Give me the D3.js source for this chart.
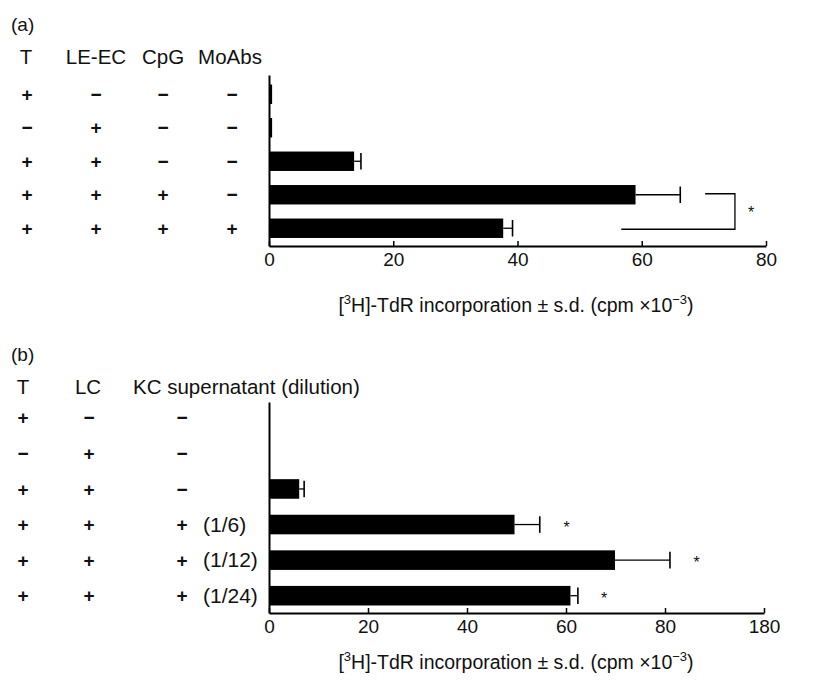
<!DOCTYPE html>
<html>
<head>
<meta charset="utf-8">
<script src="https://cdn.jsdelivr.net/npm/d3@7/dist/d3.min.js"></script>
<style>
  body { margin: 0; background: #fff; }
  svg text { font-family: "Liberation Sans", Arial, Helvetica, sans-serif; fill: #111; }
</style>
</head>
<body>
<div id="chart"></div>
<script>
const width = 824;
const height = 681;

// ---- panel (a) data ----
const rowsA = ["a1", "a2", "a3", "a4", "a5"];
const headA = ["T", "LE-EC", "CpG", "MoAbs"];
const tA = ["+", "\u2212", "+", "+", "+"];
const leecA = ["\u2212", "+", "+", "+", "+"];
const cpgA = ["\u2212", "\u2212", "\u2212", "+", "+"];
const moabsA = ["\u2212", "\u2212", "\u2212", "\u2212", "+"];
const meanA = [0.5, 0.5, 13.7, 59.0, 37.7];
const sdA = [0, 0, 1.1, 7.2, 1.5];
const ticksA = [0, 20, 40, 60, 80];
// significance bracket between rows 4 and 5 (x values)
const bracketA = {top: [70.2, 75], bottom: [56.7, 75], star: 77.6};

// ---- panel (b) data ----
const rowsB = ["b1", "b2", "b3", "b4", "b5", "b6"];
const tB = ["+", "\u2212", "+", "+", "+", "+"];
const lcB = ["\u2212", "+", "+", "+", "+", "+"];
const kcB = ["\u2212", "\u2212", "\u2212", "+", "+", "+"];
const dilB = ["", "", "", "(1/6)", "(1/12)", "(1/24)"];
const meanB = [0, 0, 6.1, 49.6, 69.9, 60.9];
const sdB = [0, 0, 1.0, 5.1, 11.1, 1.5];
const starB = [null, null, null, 60.1, 86.4, 67.7];
const tickValsB = [0, 20, 40, 60, 80, 100];
const tickLabelsB = ["0", "20", "40", "60", "80", "180"];

const axisTitle = ["[", "3", "H]-TdR incorporation \u00b1 s.d. (cpm \u00d710", "\u22123", ")"];

const svg = d3.select("#chart")
  .append("svg")
  .attr("width", width)
  .attr("height", height);

function title(g, x, y) {
  const t = g.append("text")
    .attr("x", x).attr("y", y)
    .attr("text-anchor", "middle")
    .attr("font-size", 19.5);
  axisTitle.forEach((s, i) => {
    const sup = i === 1 || i === 3;
    const ts = t.append("tspan").text(s);
    if (sup) ts.attr("font-size", 13).attr("dy", -8);
    else if (i > 0) ts.attr("dy", 8);
  });
}

function panel(opt) {
  const g = svg.append("g");
  const x = d3.scaleLinear().domain(opt.domain).range([269, opt.xEnd]);
  const y = d3.scaleBand().domain(opt.rows).range(opt.yRange).paddingInner(opt.pad).paddingOuter(opt.pad / 2);

  // panel letter
  g.append("text").attr("x", 11).attr("y", opt.letterY)
    .attr("font-size", 19).text(opt.letter);

  // column headers
  opt.heads.forEach(h => {
    g.append("text").attr("x", h.x).attr("y", opt.headY)
      .attr("text-anchor", h.anchor || "middle")
      .attr("font-size", 20.5).text(h.text);
  });

  // +/- columns
  opt.cols.forEach(c => {
    g.selectAll(null).data(c.vals).enter().append("text")
      .attr("x", c.x)
      .attr("y", (d, i) => y(opt.rows[i]) + y.bandwidth() / 2)
      .attr("dy", "0.35em")
      .attr("text-anchor", c.anchor || "middle")
      .attr("font-size", c.size || 19)
      .attr("font-weight", c.bold === false ? "normal" : "bold")
      .text(d => d);
  });

  // bars
  g.selectAll(".bar").data(opt.mean).enter().append("rect")
    .attr("x", x(0))
    .attr("y", (d, i) => y(opt.rows[i]))
    .attr("width", d => x(d) - x(0))
    .attr("height", y.bandwidth())
    .attr("fill", "#000");

  // error bars
  const eb = opt.mean.map((m, i) => ({m, s: opt.sd[i], r: opt.rows[i]})).filter(d => d.s > 0);
  g.selectAll(".err").data(eb).enter().append("line")
    .attr("x1", d => x(d.m)).attr("x2", d => x(d.m + d.s))
    .attr("y1", d => y(d.r) + y.bandwidth() / 2).attr("y2", d => y(d.r) + y.bandwidth() / 2)
    .attr("stroke", "#000").attr("stroke-width", 1.3);
  g.selectAll(".cap").data(eb).enter().append("line")
    .attr("x1", d => x(d.m + d.s)).attr("x2", d => x(d.m + d.s))
    .attr("y1", d => y(d.r) + 1.5).attr("y2", d => y(d.r) + y.bandwidth() - 1.5)
    .attr("stroke", "#000").attr("stroke-width", 1.6);

  // x axis
  const ax = d3.axisBottom(x)
    .tickValues(opt.ticks)
    .tickFormat((d, i) => opt.tickLabels[i])
    .tickSizeInner(-5).tickSizeOuter(0).tickPadding(7);
  const axg = g.append("g")
    .attr("transform", `translate(0,${opt.base})`)
    .call(ax);
  axg.select(".domain").attr("stroke-width", 2);
  axg.selectAll(".tick line").attr("stroke-width", 1.5);
  axg.selectAll(".tick text").attr("font-size", 19).attr("fill", "#111")
    .attr("font-family", "Liberation Sans, Arial, sans-serif");

  // y axis (line only)
  const yl = d3.scaleLinear().domain([0, 1]).range([opt.base, opt.yTop]);
  const ayg = g.append("g").attr("transform", `translate(${x(0)},0)`)
    .call(d3.axisLeft(yl).tickValues([]).tickSizeOuter(0));
  ayg.select(".domain").attr("stroke-width", 2);

  title(g, 516, opt.titleY);
  return {g, x, y};
}

const A = panel({
  letter: "(a)", letterY: 31, headY: 64,
  heads: [
    {text: headA[0], x: 26}, {text: headA[1], x: 96},
    {text: headA[2], x: 163}, {text: headA[3], x: 230}
  ],
  cols: [{vals: tA, x: 27}, {vals: leecA, x: 96}, {vals: cpgA, x: 163}, {vals: moabsA, x: 232}],
  rows: rowsA, mean: meanA, sd: sdA,
  domain: [0, 80], xEnd: 766, ticks: ticksA, tickLabels: ticksA.map(String),
  yRange: [77.5, 245], pad: 0.42, base: 246, yTop: 75, titleY: 312
});

// bracket + star in (a)
{
  const {g, x, y} = A;
  const yTop = y(rowsA[3]) + y.bandwidth() / 2 - 1;
  const yBot = y(rowsA[4]) + y.bandwidth() / 2 + 1;
  const pts = [[bracketA.top[0], yTop], [bracketA.top[1], yTop], [bracketA.bottom[1], yBot], [bracketA.bottom[0], yBot]];
  g.append("path")
    .attr("d", d3.line().x(d => x(d[0])).y(d => d[1])(pts))
    .attr("fill", "none").attr("stroke", "#000").attr("stroke-width", 1.3);
  g.append("text").attr("x", x(bracketA.star)).attr("y", (yTop + yBot) / 2 + 6)
    .attr("text-anchor", "middle").attr("font-size", 16).text("*");
}

const B = panel({
  letter: "(b)", letterY: 361, headY: 394,
  heads: [
    {text: "T", x: 23}, {text: "LC", x: 88},
    {text: "KC supernatant (dilution)", x: 133, anchor: "start"}
  ],
  cols: [{vals: tB, x: 23}, {vals: lcB, x: 89}, {vals: kcB, x: 182},
         {vals: dilB, x: 203, anchor: "start", bold: false, size: 21}],
  rows: rowsB, mean: meanB, sd: sdB,
  domain: [0, 100], xEnd: 764, ticks: tickValsB, tickLabels: tickLabelsB,
  yRange: [400, 613.5], pad: 0.45, base: 613, yTop: 402, titleY: 669
});

// stars in (b)
{
  const {g, x, y} = B;
  const st = starB.map((v, i) => ({v, r: rowsB[i]})).filter(d => d.v !== null);
  g.selectAll(".star").data(st).enter().append("text")
    .attr("x", d => x(d.v))
    .attr("y", d => y(d.r) + y.bandwidth() / 2 + 8)
    .attr("text-anchor", "middle").attr("font-size", 16).text("*");
}
</script>
</body>
</html>
